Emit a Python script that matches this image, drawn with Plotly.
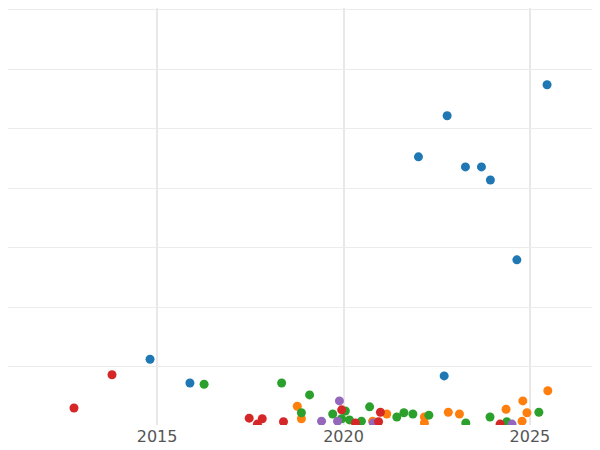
import plotly.graph_objects as go

blue_x = [2014.81, 2015.88, 2022.01, 2022.78, 2023.27, 2023.70, 2023.94, 2024.65, 2025.46, 2022.70]
blue_y = [1.13, 0.73, 4.53, 5.22, 4.36, 4.36, 4.14, 2.80, 5.74, 0.85]
red_x = [2012.77, 2013.79, 2017.47, 2017.82, 2017.69, 2018.39, 2019.95, 2020.32, 2020.99, 2020.94, 2024.2]
red_y = [0.31, 0.87, 0.14, 0.13, 0.04, 0.08, 0.28, 0.06, 0.24, 0.08, 0.04]
green_x = [2016.26, 2018.34, 2019.09, 2018.87, 2019.71, 2020.05, 2019.95, 2020.16, 2020.48, 2020.7,
           2021.43, 2021.62, 2021.86, 2022.29, 2023.28, 2023.93, 2024.38, 2025.24]
green_y = [0.71, 0.73, 0.53, 0.23, 0.21, 0.26, 0.13, 0.11, 0.09, 0.33,
           0.16, 0.23, 0.21, 0.19, 0.06, 0.16, 0.08, 0.24]
orange_x = [2018.76, 2018.87, 2020.78, 2021.16, 2022.17, 2022.17, 2022.81, 2023.11, 2024.36, 2024.81,
            2024.92, 2024.79, 2025.48]
orange_y = [0.34, 0.13, 0.09, 0.21, 0.06, 0.16, 0.24, 0.21, 0.29, 0.43, 0.23, 0.09, 0.6]
purple_x = [2019.41, 2019.89, 2019.84, 2020.8, 2024.52]
purple_y = [0.09, 0.43, 0.09, 0.06, 0.04]

fig = go.Figure()
for xs, ys, c in [(orange_x, orange_y, "#ff7f0e"), (green_x, green_y, "#2ca02c"),
                  (purple_x, purple_y, "#9467bd"), (red_x, red_y, "#d62728"),
                  (blue_x, blue_y, "#1f77b4")]:
    fig.add_trace(go.Scatter(x=xs, y=ys, mode="markers",
                             marker=dict(color=c, size=9), showlegend=False))

fig.update_layout(
    width=592, height=442, margin=dict(l=0, r=0, t=0, b=25),
    plot_bgcolor="white", paper_bgcolor="white",
    font=dict(family="DejaVu Sans", size=16, color="#555"),
)
fig.update_xaxes(range=[2011.0, 2026.88], tickvals=[2015, 2020, 2025],
                 showgrid=True, gridcolor="#e8e8e8", gridwidth=2, zeroline=False, ticks="")
fig.update_yaxes(range=[0.025, 7.03], dtick=1, showticklabels=False,
                 showgrid=True, gridcolor="#ececec", gridwidth=1, zeroline=False)
fig.write_html("out.html")
